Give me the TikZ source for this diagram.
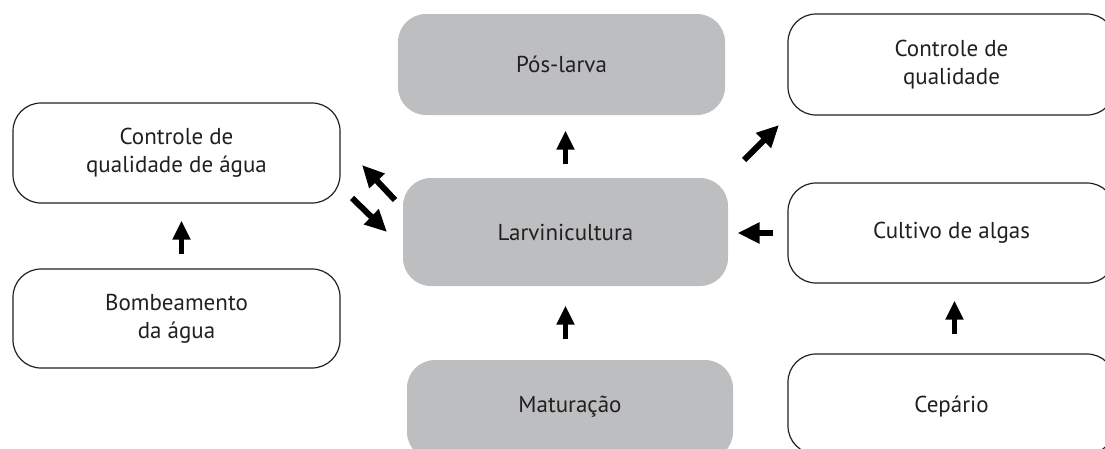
\documentclass[tikz,border=0pt]{standalone}
\usepackage{fontspec}
\setmainfont{PT Sans}
\usetikzlibrary{arrows.meta}
\definecolor{boxgray}{HTML}{BDBEC0}
\definecolor{txt}{HTML}{231F20}
\tikzset{
  x=1pt, y=-1pt,
  lbl/.style={text=txt, font=\fontsize{23}{28}\selectfont},
  box/.style={lbl, draw=txt, line width=1.2pt, rounded corners=28pt, minimum width=327pt, minimum height=100pt,
    inner sep=0pt, align=center},
  graybox/.style={box, draw=none, fill=boxgray},
  arr/.style={line width=6pt, -{Triangle[width=20pt,length=22pt]}, draw=black},
  varr/.style={line width=5pt, -{Triangle[width=17pt,length=19pt]}, draw=black}
}
\begin{document}
\begin{tikzpicture}
\useasboundingbox (0,0) rectangle (1105,448);
\clip (0,0) rectangle (1105,448);
\node[graybox, minimum height=101pt] (pos) at (561.5,64.5) {Pós-larva};
\node[box, minimum height=101pt] (cq) at (951.5,64.5) {Controle de\\qualidade};
\node[box] (qa) at (176.5,153) {Controle de\\qualidade de água};
\node[graybox, minimum width=325pt, minimum height=108pt] (larv) at (565.5,232) {Larvinicultura};
\node[box] (cult) at (951.5,233) {Cultivo de algas};
\node[box, minimum height=99pt] (bomb) at (176.5,318.5) {Bombeamento\\da água};
\node[graybox, minimum width=326pt] (mat) at (570,410) {};
\node[lbl] (matt) at (570,407) {Maturação};
\node[box] (cep) at (951.5,404) {};
\node[lbl] (cept) at (951.5,407) {Cepário};
% connectors
\draw[varr, shorten <=13pt, shorten >=15pt] (larv.north) -- (larv.north |- pos.south);
\draw[varr, shorten <=20pt, shorten >=19pt] (larv.south |- mat.north) -- (larv.south);
\draw[varr, shorten <=14pt, shorten >=17pt] ([xshift=5pt]bomb.north) -- ([xshift=5pt]qa.south);
\draw[varr, shorten <=19pt, shorten >=17pt] ([xshift=3pt]cep.north) -- ([xshift=3pt]cult.south);
\draw[arr, shorten <=14pt, shorten >=9pt] (cult.west) -- (cult.west -| larv.east);
\coordinate (c1s) at (744,160); \coordinate (c1e) at (779,125);
\coordinate (c2s) at (395,200); \coordinate (c2e) at (362,165);
\coordinate (c3s) at (352,198); \coordinate (c3e) at (387,232);
\draw[arr] (c1s) -- (c1e);
\draw[arr] (c2s) -- (c2e);
\draw[arr] (c3s) -- (c3e);
\end{tikzpicture}
\end{document}
